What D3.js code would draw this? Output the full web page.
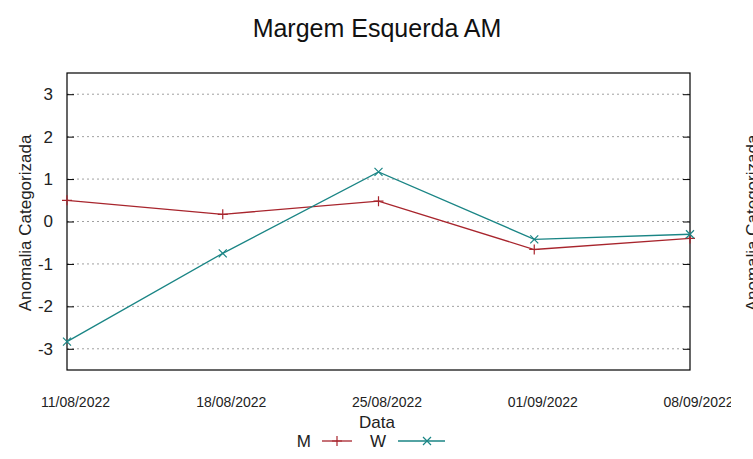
<!DOCTYPE html>
<html><head><meta charset="utf-8">
<script src="https://cdn.jsdelivr.net/npm/d3@7"></script>
<style>body{margin:0;background:#fff}svg{display:block}</style>
</head><body><svg id="c" width="753" height="459"></svg>
<script>
const dates = ["11/08/2022","18/08/2022","25/08/2022","01/09/2022","08/09/2022"];
const mValues = [0.5, 0.17, 0.48, -0.66, -0.4];
const wValues = [-2.83, -0.75, 1.17, -0.42, -0.3];
const yTicks = [3,2,1,0,-1,-2,-3];

const svg = d3.select("#c");
const L=67, R=690, T=73, B=370;
const x = d3.scalePoint().domain(dates).range([L,R]);
const y = d3.scaleLinear().domain([-3.5,3.5]).range([B,T]);
const font = "'Liberation Sans', Arial, sans-serif";
const narrow = "'Liberation Sans Narrow', 'Liberation Sans', sans-serif";

// grid
svg.append("g").selectAll("line").data(yTicks).join("line")
  .attr("x1",L).attr("x2",R).attr("y1",d=>y(d)).attr("y2",d=>y(d))
  .attr("stroke","#a0a0a0").attr("stroke-width",1).attr("stroke-dasharray","2,3");

// left axis
const ya = svg.append("g").attr("transform",`translate(${L},0)`)
  .call(d3.axisLeft(y).tickValues(yTicks).tickSize(-7).tickPadding(14).tickFormat(d=>String(d)));
ya.select(".domain").remove();
ya.selectAll("text").attr("font-family",font).attr("font-size",17).attr("fill","#222");
ya.selectAll("line").attr("stroke","#000");
// right mirror ticks
const yr = svg.append("g").attr("transform",`translate(${R},0)`)
  .call(d3.axisRight(y).tickValues(yTicks).tickSize(-7).tickFormat(""));
yr.select(".domain").remove();
yr.selectAll("line").attr("stroke","#000");

// x labels
svg.append("clipPath").attr("id","cl").append("rect").attr("x",0).attr("y",0).attr("width",731).attr("height",459);
const xa = svg.append("g").attr("clip-path","url(#cl)").attr("transform",`translate(0,${B})`)
  .call(d3.axisBottom(x).tickSize(0).tickPadding(0));
xa.select(".domain").remove();
xa.selectAll("text").attr("font-family",narrow)
  .attr("font-size",14).attr("fill","#222").attr("dy",0).attr("y",37).attr("x",8);

// frame
svg.append("rect").attr("x",L).attr("y",T).attr("width",R-L).attr("height",B-T)
  .attr("fill","none").attr("stroke","#000").attr("stroke-width",1.2);

const cM="#a8252d", cW="#1a8585";
const line = d3.line().x((d,i)=>x(dates[i])).y(d=>y(d));
svg.append("path").datum(mValues).attr("d",line).attr("fill","none").attr("stroke",cM).attr("stroke-width",1.3);
svg.append("path").datum(wValues).attr("d",line).attr("fill","none").attr("stroke",cW).attr("stroke-width",1.3);
svg.append("g").selectAll("path").data(mValues).join("path")
  .attr("d",(d,i)=>{const cx=x(dates[i]),cy=y(d);return `M${cx-5},${cy}H${cx+5}M${cx},${cy-5}V${cy+5}`;})
  .attr("stroke",cM).attr("stroke-width",1.2);
svg.append("g").selectAll("path").data(wValues).join("path")
  .attr("d",(d,i)=>{const cx=x(dates[i]),cy=y(d);return `M${cx-4},${cy-4}L${cx+4},${cy+4}M${cx-4},${cy+4}L${cx+4},${cy-4}`;})
  .attr("stroke",cW).attr("stroke-width",1.2);

// titles
svg.append("text").attr("x",377).attr("y",37).attr("text-anchor","middle")
  .attr("font-family",font).attr("font-size",25).attr("fill","#111").text("Margem Esquerda AM");
svg.append("text").attr("transform","translate(31,223) rotate(-90)").attr("text-anchor","middle")
  .attr("font-family",font).attr("font-size",17).attr("fill","#222").text("Anomalia Categorizada");
svg.append("text").attr("transform","translate(758,223) rotate(-90)").attr("text-anchor","middle")
  .attr("font-family",font).attr("font-size",17).attr("fill","#222").text("Anomalia Categorizada");
svg.append("text").attr("x",377).attr("y",428).attr("text-anchor","middle")
  .attr("font-family",narrow).attr("font-size",17).attr("fill","#222").text("Data");

// legend
const lg = svg.append("g").attr("font-family",narrow).attr("font-size",17).attr("fill","#222");
lg.append("text").attr("x",311).attr("y",447).attr("text-anchor","end").text("M");
lg.append("line").attr("x1",322).attr("x2",352).attr("y1",441).attr("y2",441).attr("stroke",cM).attr("stroke-width",1.3);
lg.append("path").attr("d","M332,441H342M337,436V446").attr("stroke",cM).attr("stroke-width",1.2);
lg.append("text").attr("x",386).attr("y",447).attr("text-anchor","end").text("W");
lg.append("line").attr("x1",398).attr("x2",445).attr("y1",441).attr("y2",441).attr("stroke",cW).attr("stroke-width",1.3);
lg.append("path").attr("d","M423,437L431,445M423,445L431,437").attr("stroke",cW).attr("stroke-width",1.2);
</script></body></html>
